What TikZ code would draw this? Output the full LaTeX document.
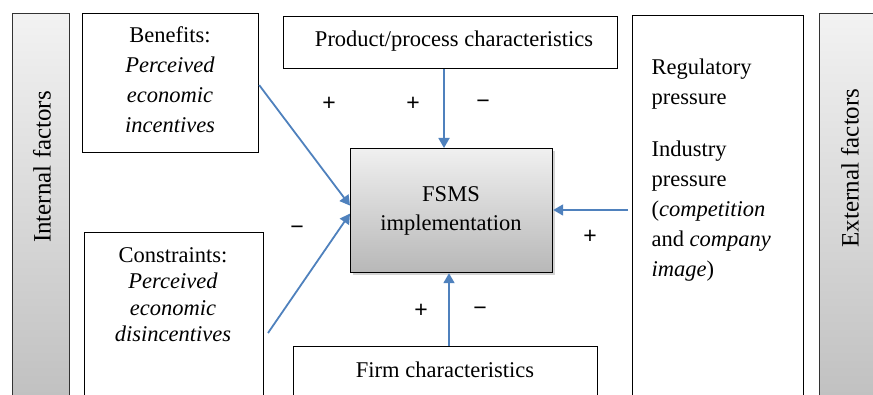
\documentclass[tikz,border=0pt]{standalone}
\usepackage{fontspec}
\setmainfont{Liberation Serif}
\newfontfamily\signfont{Liberation Sans}
\usetikzlibrary{arrows.meta,shadows,calc}
\definecolor{arr}{HTML}{4F81BD}
\begin{document}
\begin{tikzpicture}[x=1pt,y=-1pt,
  box/.style={draw=black,line width=1.2pt,fill=white,anchor=north west,inner sep=0pt},
  bar/.style={draw=black!80,line width=1.2pt,anchor=north west,inner sep=0pt,top color=black!5,bottom color=black!25},
  conn/.style={draw=arr,line width=1.8pt,-{Triangle[length=10pt,width=11pt]}},
  sign/.style={font=\signfont\fontsize{23}{23}\selectfont},
  txt/.style={font=\fontsize{22.5}{30}\selectfont}]
\clip (0,0) rectangle (873,395);
\node[bar,minimum width=57pt,minimum height=395pt] (lb) at (12,13) {};
\node[bar,minimum width=57pt,minimum height=395pt] (rb) at (819,13) {};
\node[rotate=90,font=\fontsize{25}{25}\selectfont] (lbt) at (42,167) {Internal factors};
\node[rotate=90,font=\fontsize{25}{25}\selectfont] (rbt) at (850,168) {External factors};
\node[box,minimum width=176pt,minimum height=139pt] (ben) at (82,13) {};
\node[txt,align=center,anchor=north] (bent) at (170,23) {Benefits:\\\textit{Perceived}\\\textit{economic}\\\textit{incentives}};
\node[box,minimum width=179pt,minimum height=175pt] (con) at (84,232) {};
\node[align=center,anchor=north,font=\fontsize{22.5}{26.3}\selectfont] (cont) at (173,244) {Constraints:\\\textit{Perceived}\\\textit{economic}\\\textit{disincentives}};
\node[box,minimum width=334pt,minimum height=52pt] (pp) at (283,16) {};
\node[txt] (ppt) at (454,41) {Product/process characteristics};
\node[box,minimum width=304pt,minimum height=60pt] (firm) at (293,346) {};
\node[txt] (firmt) at (445,370) {Firm characteristics};
\node[box,minimum width=171pt,minimum height=395pt] (ext) at (632,15) {};
\node[txt,align=left,anchor=north west] (extt) at (648,55) {Regulatory\\pressure\\[-8pt]\\Industry\\pressure\\(\textit{competition}\\and \textit{company}\\\textit{image})};
\node[draw=black,line width=1.2pt,anchor=north west,inner sep=0pt,minimum width=202pt,minimum height=124pt,top color=black!6,bottom color=black!28,drop shadow={shadow xshift=2pt,shadow yshift=-2pt,opacity=0.35}] (fsms) at (350,148) {};
\node[txt,align=center] (fsmst) at (451,211) {FSMS\\[-1pt]implementation};
\coordinate (b1) at ($(ben.east)+(0,2)$);
\coordinate (c1) at (268,333);
\coordinate (e1) at (628,210);
\draw[conn] (b1) -- ($(fsms.west)+(0,-5)$);
\draw[conn] (c1) -- ($(fsms.west)+(0,3)$);
\draw[conn] (pp.south -| 444,0) -- (fsms.north -| 444,0);
\draw[conn] (firm.north -| 449,0) -- (fsms.south -| 449,0);
\draw[conn] (e1) -- (fsms.east |- e1);
\node[sign] (s1) at (329,104) {+};
\node[sign] (s2) at (413,104) {+};
\node[sign] (s3) at (483,104) {−};
\node[sign] (s4) at (297,230) {−};
\node[sign] (s5) at (590,237) {+};
\node[sign] (s6) at (421,311) {+};
\node[sign] (s7) at (480,311) {−};
\end{tikzpicture}
\end{document}
